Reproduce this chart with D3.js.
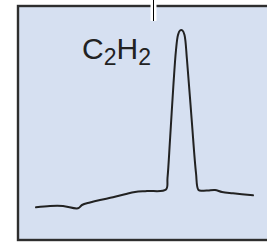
<!DOCTYPE html>
<html><head><meta charset="utf-8">
<script src="https://cdn.jsdelivr.net/npm/d3@7"></script>
<style>html,body{margin:0;padding:0;background:#fff;}svg{display:block;}</style>
</head><body>
<script>
// Chromatogram trace (x: time units, y: detector signal)
const times  = [18,32,45,60,64,72,82,95,107,117,129,148,149.5,152,155.3,158,160,162,164.5,166.5,169,173.7,178,180.5,185,190,197,204,215,235];
const signal = [32.7,34,34,31.7,35,37.5,40,42.7,45.7,48,49,50.5,62,100,153.3,190,205,209.5,209.5,205,180,120,67,50,49.3,49.5,50,48,46.7,44.7];
const markerTicks = [135];
const peakLabel = {main:["C","H"], sub:["2","2"]};

const W = 267, H = 242;
const svg = d3.select("body").append("svg").attr("width", W).attr("height", H);

const x = d3.scaleLinear().domain([0, 252]).range([18, 270]);
const y = d3.scaleLinear().domain([0, 210]).range([240, 30]);

// panel
svg.append("rect")
  .attr("x", x(0)).attr("y", 6)
  .attr("width", 260).attr("height", 234)
  .attr("fill", "#d6e0f1")
  .attr("stroke", "#2e2e2e").attr("stroke-width", 2.4);

// marker tick at top with white halo
const ax = svg.append("g")
  .call(d3.axisBottom(x).tickValues(markerTicks).tickSize(21).tickFormat(""));
ax.select(".domain").remove();
ax.selectAll(".tick line").clone(true).lower()
  .attr("stroke", "#fff").attr("stroke-width", 6);
ax.selectAll(".tick").each(function(){
  const g = d3.select(this);
  g.selectAll("line").attr("y1", 0).attr("y2", 21);
  g.select("line:last-child").attr("stroke", "#333").attr("stroke-width", 2);
});

// trace
const line = d3.line().x((d,i)=>x(times[i])).y((d,i)=>y(signal[i])).curve(d3.curveCatmullRom.alpha(0.5));
svg.append("path").datum(signal)
  .attr("d", line)
  .attr("fill", "none").attr("stroke", "#222").attr("stroke-width", 2)
  .attr("stroke-linejoin", "round").attr("stroke-linecap", "round");

// label
const t = svg.append("text").attr("x", 82).attr("y", 59)
  .attr("font-family", "Liberation Sans, Arial, sans-serif")
  .attr("font-size", 30).attr("fill", "#222");
peakLabel.main.forEach((m,i)=>{
  t.append("tspan").text(m).attr("dy", i===0 ? 0 : -6).attr("font-size", 30);
  t.append("tspan").text(peakLabel.sub[i]).attr("dy", 6).attr("font-size", 23);
});
</script>
</body></html>
